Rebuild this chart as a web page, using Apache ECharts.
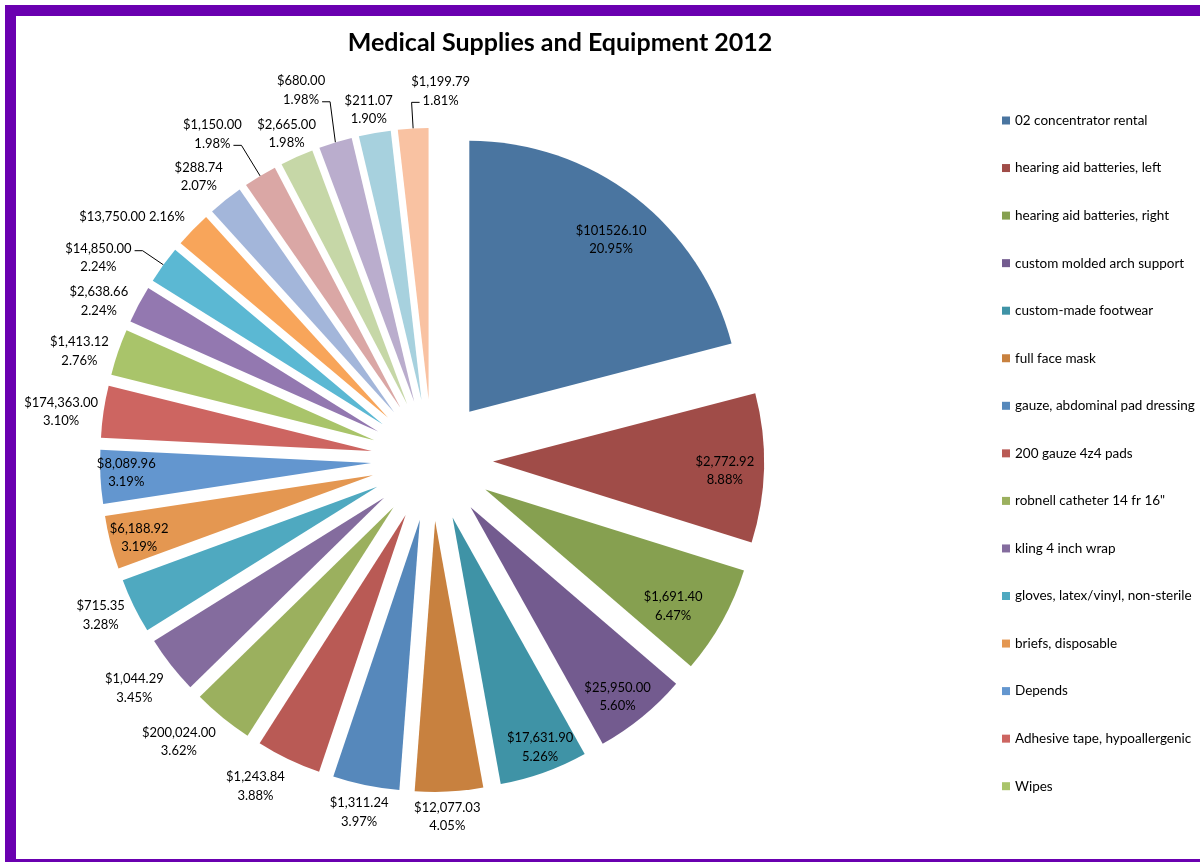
<!DOCTYPE html>
<html>
<head>
<meta charset="utf-8">
<title>Medical Supplies and Equipment 2012</title>
<script src="https://cdn.jsdelivr.net/npm/echarts@6/dist/echarts.min.js"></script>
<style>
  html, body { margin: 0; padding: 0; background: #ffffff; }
  #chart { width: 1200px; height: 862px; }
</style>
</head>
<body>
<div id="chart"></div>
<script>
// ---- data -------------------------------------------------------------
const categories = [
  '02 concentrator rental',
  'hearing aid batteries, left',
  'hearing aid batteries, right',
  'custom molded arch support',
  'custom-made footwear',
  'full face mask',
  'gauze, abdominal pad dressing',
  '200 gauze 4z4 pads',
  'robnell catheter 14 fr 16"',
  'kling 4 inch wrap',
  'gloves, latex/vinyl, non-sterile',
  'briefs, disposable',
  'Depends',
  'Adhesive tape, hypoallergenic',
  'Wipes',
  'item 16', 'item 17', 'item 18', 'item 19', 'item 20',
  'item 21', 'item 22', 'item 23', 'item 24'
];

// share of the year's spending, in percent
const shares = [
  20.95, 8.88, 6.47, 5.60, 5.26, 4.05, 3.97, 3.88, 3.62, 3.45, 3.28, 3.19,
  3.19, 3.10, 2.76, 2.24, 2.24, 2.16, 2.07, 1.98, 1.98, 1.98, 1.90, 1.81
];

// dollar amount printed with each slice
const amounts = [
  '$101526.10', '$2,772.92', '$1,691.40', '$25,950.00', '$17,631.90',
  '$12,077.03', '$1,311.24', '$1,243.84', '$200,024.00', '$1,044.29',
  '$715.35', '$6,188.92', '$8,089.96', '$174,363.00', '$1,413.12',
  '$2,638.66', '$14,850.00', '$13,750.00', '$288.74', '$1,150.00',
  '$2,665.00', '$680.00', '$211.07', '$1,199.79'
];

// only the first fifteen categories fit in the legend box
const legendItems = categories.slice(0, 15);

// ---- styling ----------------------------------------------------------
const sliceColors = [
  '#4A75A0', '#A04C48', '#86A050', '#735B8F', '#3F93A6', '#C8813F',
  '#5688BB', '#B95A55', '#9BB05E', '#846C9E', '#4FA9C0', '#E49751',
  '#6396CF', '#CD6561', '#A9C46A', '#9378B0', '#5BB8D3', '#F8A55A',
  '#A3B6DA', '#DAA7A5', '#C6D7A7', '#BAADCD', '#A7D1DE', '#F9C2A2'
];

const CX = 432, CY = 460, R = 271, EXPLODE = 61;
const FONT = 'Lato, "Open Sans", "Noto Sans", sans-serif';
const LABEL_SIZE = 13, LINE_H = 18.5;

// label placement: distance from the pie centre and a small turn off the slice bisector (deg)
const labelRho = [284, 293, 282, 301, 307, 357, 360, 371, 379, 375, 366, 303,
                  306, 374, 369, 369, 390, 386, 367, 393, 357, 392, 356, 369];
const labelTurn = [1.4, 0.7, 2.2, 1.2, -0.9, 0.5, 0.2, 2.8, 2.8, 0.7, 0.9, -0.5,
                   0.5, -1.0, -1.8, -2.5, -4.8, -4.9, -1.0, -2.8, 0, -2.6, -0.3, 4.6];
// labels printed on a single line
const singleLine = new Set([17]);
// labels with a leader line -> which text line the line attaches to
const leaders = { 16: 0, 19: 1, 21: 1, 23: 1 };

// ---- geometry helpers -------------------------------------------------
const total = shares.reduce((a, b) => a + b, 0);
const midAngles = [];
{
  let acc = 0;
  shares.forEach(v => { midAngles.push((acc + v / 2) / total * 360); acc += v; });
}
const rad = a => a * Math.PI / 180;
const polar = (rho, deg) => [CX + rho * Math.sin(rad(deg)), CY - rho * Math.cos(rad(deg))];

const measureCtx = document.createElement('canvas').getContext('2d');
measureCtx.font = LABEL_SIZE + 'px ' + FONT;
const textWidth = s => measureCtx.measureText(s).width;

function labelLines(i) {
  const pct = shares[i].toFixed(2) + '%';
  return singleLine.has(i) ? [amounts[i] + ' ' + pct] : [amounts[i], pct];
}

// exploded slices
const sliceData = shares.map((v, i) => ({
  value: v,
  name: categories[i],
  selected: true,
  itemStyle: { color: sliceColors[i] }
}));

// same slices, unfilled, carrying the data labels and leader lines
const labelData = shares.map((v, i) => {
  const item = { value: v, name: categories[i] };
  if (leaders[i] !== undefined) item.labelLine = { show: true };
  return item;
});

const chart = echarts.init(document.getElementById('chart'), null, { renderer: 'canvas' });

chart.setOption({
  animation: false,
  backgroundColor: '#ffffff',
  graphic: [
    {
      type: 'rect',
      silent: true,
      z: 100,
      shape: { x: 10.5, y: 10.5, width: 1210, height: 854 },
      style: { fill: 'none', stroke: '#6A00B0', lineWidth: 11 }
    },
    {
      type: 'text',
      silent: true,
      x: 560, y: 43,
      style: {
        text: 'Medical Supplies and Equipment 2012',
        fill: '#000000',
        font: 'bold 25px ' + FONT,
        align: 'center',
        verticalAlign: 'middle'
      }
    }
  ],
  legend: {
    orient: 'vertical',
    left: 997,
    top: 107.5,
    data: legendItems,
    icon: 'rect',
    itemWidth: 8,
    itemHeight: 8,
    itemGap: 31.55,
    selectedMode: false,
    textStyle: {
      fontFamily: FONT,
      fontSize: 13.5,
      lineHeight: 16,
      color: '#000000',
      padding: [0, 0, 0, 0]
    }
  },
  series: [
    {
      type: 'pie',
      center: [CX, CY],
      radius: R,
      startAngle: 90,
      clockwise: true,
      selectedMode: 'multiple',
      selectedOffset: EXPLODE,
      avoidLabelOverlap: false,
      itemStyle: { borderWidth: 0 },
      emphasis: { disabled: true },
      select: { itemStyle: { borderWidth: 0 } },
      label: { show: false },
      labelLine: { show: false },
      data: sliceData
    },
    {
      type: 'pie',
      silent: true,
      legendHoverLink: false,
      center: [CX, CY],
      radius: R,
      startAngle: 90,
      clockwise: true,
      selectedMode: false,
      avoidLabelOverlap: false,
      itemStyle: { color: 'rgba(0,0,0,0)', borderWidth: 0 },
      emphasis: { disabled: true },
      label: {
        show: true,
        position: 'outside',
        fontFamily: FONT,
        fontSize: LABEL_SIZE,
        lineHeight: LINE_H,
        color: '#000000',
        align: 'center',
        formatter: p => labelLines(p.dataIndex).join('\n')
      },
      labelLine: {
        show: false,
        smooth: false,
        lineStyle: { color: '#000000', width: 1 }
      },
      labelLayout: function (p) {
        const i = p.dataIndex;
        const pos = polar(labelRho[i], midAngles[i] + labelTurn[i]);
        const out = { x: pos[0], y: pos[1], align: 'center', verticalAlign: 'middle' };
        if (leaders[i] !== undefined) {
          const lines = labelLines(i);
          const li = leaders[i];
          const lineY = pos[1] + (li - (lines.length - 1) / 2) * LINE_H + 2;
          const w = textWidth(lines[li]);
          const tip = polar(R + EXPLODE, midAngles[i]);
          const dir = tip[0] > pos[0] ? 1 : -1;
          const ax = pos[0] + dir * (w / 2 + 3);
          out.labelLinePoints = [tip, [ax + dir * 8, lineY], [ax, lineY]];
        }
        return out;
      },
      data: labelData
    }
  ]
});
</script>
</body>
</html>
